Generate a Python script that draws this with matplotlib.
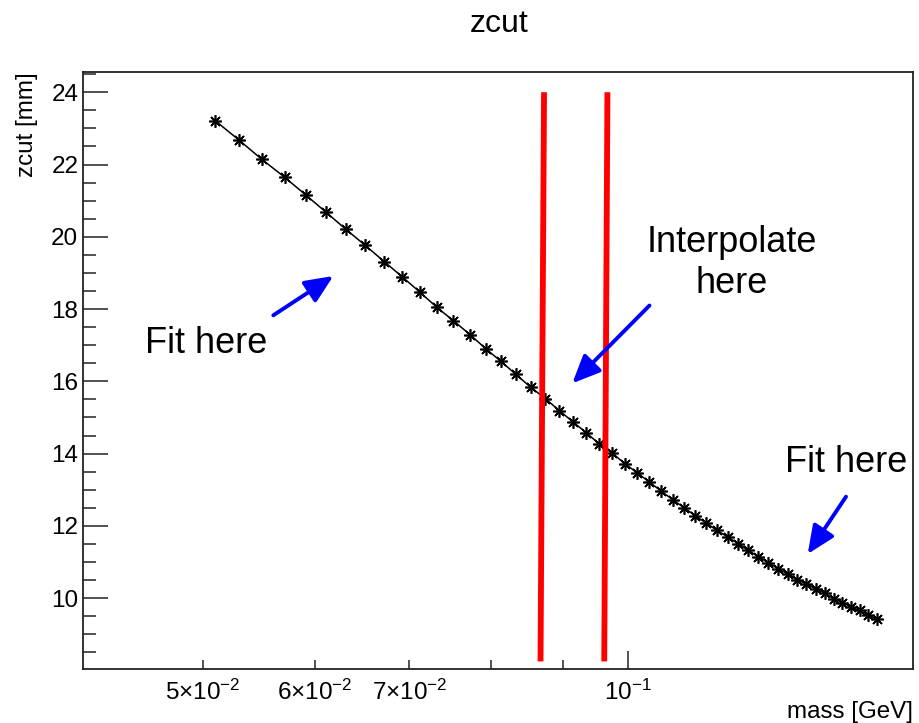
import matplotlib
matplotlib.use("Agg")
import matplotlib.pyplot as plt
from matplotlib.ticker import FixedLocator, FuncFormatter, NullFormatter
from matplotlib.patches import FancyArrowPatch

plt.rcParams['font.family'] = ['Liberation Sans', 'DejaVu Sans']
plt.rcParams['mathtext.fontset'] = 'custom'
plt.rcParams['mathtext.rm'] = 'Liberation Sans'
plt.rcParams['mathtext.it'] = 'Liberation Sans:italic'
plt.rcParams['mathtext.bf'] = 'Liberation Sans:bold'

# dati
mass = [0.0510, 0.0530, 0.0550, 0.0571, 0.0591, 0.0611, 0.0631, 0.0651, 0.0672, 0.0692,
        0.0712, 0.0732, 0.0752, 0.0773, 0.0793, 0.0813, 0.0833, 0.0853, 0.0874, 0.0894,
        0.0914, 0.0934, 0.0954, 0.0975, 0.0995, 0.1015, 0.1035, 0.1055, 0.1076, 0.1096,
        0.1116, 0.1136, 0.1156, 0.1177, 0.1197, 0.1217, 0.1237, 0.1257, 0.1278, 0.1298,
        0.1318, 0.1338, 0.1358, 0.1379, 0.1399, 0.1419, 0.1439, 0.1459, 0.1480, 0.1500]
zcut = [23.21, 22.68, 22.15, 21.65, 21.16, 20.68, 20.21, 19.77, 19.31, 18.89,
        18.47, 18.05, 17.68, 17.29, 16.90, 16.55, 16.19, 15.84, 15.52, 15.19,
        14.88, 14.58, 14.27, 14.01, 13.72, 13.47, 13.22, 12.97, 12.72, 12.50,
        12.28, 12.08, 11.88, 11.69, 11.51, 11.32, 11.15, 10.98, 10.81, 10.67,
        10.51, 10.39, 10.26, 10.14, 9.98, 9.88, 9.75, 9.66, 9.53, 9.42]

# linee rosse (massa in alto, massa in basso)
red_top = [0.0872, 0.0967]
red_bottom = [0.0867, 0.0962]
red_y = [24.0, 8.25]

x_minor_ticks = [0.05, 0.06, 0.07, 0.08, 0.09]
x_minor_labels = [r'$5{\times}10^{-2}$', r'$6{\times}10^{-2}$', r'$7{\times}10^{-2}$', '', '']
x_major_ticks = [0.1]
x_major_labels = [r'$10^{-1}$']

W, H = 919, 723
fig = plt.figure(figsize=(W / 100, H / 100), dpi=100)
ax = fig.add_axes([83 / W, 1 - 669 / H, 830 / W, 597 / H])

ax.plot(mass, zcut, color='black', lw=1.1, marker=(8, 2, 0), markersize=9,
        markeredgewidth=1.2, zorder=3)

for xt, xb in zip(red_top, red_bottom):
    ax.plot([xt, xb], red_y, color='#ff0000', lw=4.2, solid_capstyle='butt', zorder=4)

ax.set_xscale('log')
ax.set_xlim(0.0411, 0.1592)
ax.set_ylim(8.04, 24.56)

ax.xaxis.set_major_locator(FixedLocator(x_major_ticks))
ax.xaxis.set_minor_locator(FixedLocator(x_minor_ticks))
ax.xaxis.set_major_formatter(FuncFormatter(lambda v, p: x_major_labels[p] if p < len(x_major_labels) else ''))
ax.xaxis.set_minor_formatter(FuncFormatter(lambda v, p: x_minor_labels[p] if p < len(x_minor_labels) else ''))

ax.yaxis.set_major_locator(FixedLocator([10, 12, 14, 16, 18, 20, 22, 24]))
ax.yaxis.set_minor_locator(FixedLocator([8.5 + 0.5 * i for i in range(33)]))
ax.yaxis.set_minor_formatter(NullFormatter())

ax.tick_params(axis='both', which='both', direction='in', colors='#222222',
               labelcolor='black', labelsize=17.5, width=1.1)
ax.tick_params(axis='y', which='major', length=18, pad=3.4)
ax.tick_params(axis='y', which='minor', length=9)
ax.tick_params(axis='x', which='major', length=13, pad=8)
ax.tick_params(axis='x', which='minor', length=6.7, pad=8)
ax.tick_params(top=False, right=False)

for s in ax.spines.values():
    s.set_linewidth(1.3)
    s.set_color('#222222')

# titoli ed etichette in stile ROOT
fig.text(499 / W, 1 - 32.3 / H, 'zcut', fontsize=23, ha='center', va='baseline')
fig.text(27 / W, 1 - 72 / H, 'zcut [mm]', fontsize=17.4, rotation=90, ha='center', va='top')
fig.text(913 / W, 1 - 718 / H, 'mass [GeV]', fontsize=17.4, ha='right', va='baseline')

# annotazioni
def to_ax(px, py):
    return ((px - 83) / 830, (669 - py) / 597)

ax.text(*to_ax(145, 352.7), 'Fit here', fontsize=26, ha='left', va='baseline', transform=ax.transAxes)
ax.text(*to_ax(785, 471.5), 'Fit here', fontsize=26, ha='left', va='baseline', transform=ax.transAxes)
ax.text(*to_ax(731.5, 251.7), 'Interpolate', fontsize=26, ha='center', va='baseline', transform=ax.transAxes)
ax.text(*to_ax(731.5, 293.3), 'here', fontsize=26, ha='center', va='baseline', transform=ax.transAxes)

arrows = [((273.3, 315.3), (333.3, 276.0)),
          ((649.5, 305.5), (572.3, 383.3)),
          ((846.0, 496.7), (807.7, 554.0))]
for tail, tip in arrows:
    arr = FancyArrowPatch(to_ax(*tail), to_ax(*tip), transform=ax.transAxes,
                          arrowstyle='-|>,head_length=17,head_width=7.5',
                          color='#0000ff', lw=2.8, shrinkA=0, shrinkB=0,
                          mutation_scale=1, zorder=5)
    ax.add_patch(arr)

fig.savefig('out.png', dpi=100)
